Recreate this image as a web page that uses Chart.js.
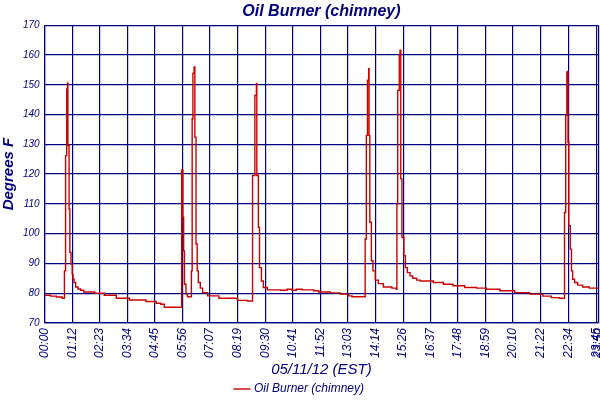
<!DOCTYPE html>
<html>
<head>
<meta charset="utf-8">
<script src="https://cdn.jsdelivr.net/npm/chart.js@4.4.0/dist/chart.umd.min.js"></script>
<style>
  html, body { margin: 0; padding: 0; background: #fff; }
  #wrap { width: 600px; height: 400px; }
</style>
</head>
<body>
<div id="wrap"><canvas id="graficaChimenea" width="600" height="400"></canvas></div>
<script>
// minutos desde medianoche (cada valor se mantiene hasta el siguiente punto)
const tiempos = [
    0, 15, 30, 45, 51, 54, 57, 59, 60, 63, 65, 68, 71, 73, 76, 80, 86, 93, 101, 129, 154, 185, 219, 262, 288, 300, 309,
    354, 357, 359, 361, 365, 369, 379, 381, 383, 386, 388, 391, 394, 397, 402, 408, 421, 450, 498, 524,
    537, 543, 547, 548, 552, 555, 560, 565, 575, 609, 626, 639, 650, 665, 695, 708, 738, 764, 785, 794,
    828, 831, 834, 837, 838, 840, 844, 848, 854, 862, 875, 897, 908,
    910, 912, 916, 918, 920, 923, 928, 932, 937, 944, 951, 961, 970, 1004, 1030, 1055, 1085, 1116, 1141, 1176, 1214, 1253, 1287, 1309, 1330,
    1343, 1346, 1349, 1351, 1352, 1354, 1358, 1361, 1364, 1369, 1377, 1390, 1407, 1430
];
const temperaturas = [
    79.3, 79.0, 78.7, 78.3, 87.5, 126.2, 148.5, 150.6, 129.6, 108.3, 93.7, 89.8, 86.4, 84.7, 83.6, 82.1, 81.4, 81.0, 80.4, 80.0, 79.3, 78.3, 77.7, 77.2, 76.6, 76.3, 75.3,
    121.4, 105.5, 94.2, 83.0, 79.7, 78.8, 87.5, 138.6, 153.9, 156.0, 132.4, 96.5, 87.5, 83.6, 81.7, 80.2, 79.1, 78.3, 77.6, 77.4,
    119.5, 146.4, 150.4, 119.5, 102.1, 88.6, 84.1, 81.9, 81.1, 81.0, 81.3, 81.0, 81.3, 81.1, 80.8, 80.4, 80.1, 79.7, 79.1, 78.8,
    98.2, 133.0, 151.5, 155.4, 133.0, 103.8, 90.9, 87.5, 84.4, 83.2, 82.1, 81.7, 81.3,
    110.0, 148.1, 159.9, 161.6, 118.4, 98.7, 92.6, 88.6, 86.9, 85.8, 85.0, 84.4, 84.1, 83.6, 83.0, 82.5, 81.9, 81.7, 81.3, 80.8, 80.2, 79.7, 79.0, 78.5, 78.3,
    107.1, 139.7, 154.3, 154.5, 130.7, 102.7, 94.8, 87.5, 84.7, 83.6, 82.7, 82.1, 81.7, 81.7
];
const etiquetasHora = [
    '00:00', '01:12', '02:23', '03:34', '04:45', '05:56', '07:07', '08:19', '09:30', '10:41', '11:52',
    '13:03', '14:14', '15:26', '16:37', '17:48', '18:59', '20:10', '21:22', '22:34', '23:45', '23:50'
];
const ticksY = [70, 80, 90, 100, 110, 120, 130, 140, 150, 160, 170];

const AZUL = '#000080';
const FUENTE = '"Liberation Sans", Arial, sans-serif';

function aMinutos(hhmm) {
    const p = hhmm.split(':');
    return parseInt(p[0], 10) * 60 + parseInt(p[1], 10);
}
const minutosTicks = etiquetasHora.map(aMinutos);

const ctx = document.getElementById('graficaChimenea').getContext('2d');

new Chart(ctx, {
    type: 'line',
    data: {
        datasets: [{
            label: 'Oil Burner (chimney)',
            data: tiempos.map((t, i) => ({ x: t, y: temperaturas[i] })),
            borderColor: '#cc0000',
            backgroundColor: '#cc0000',
            borderWidth: 1.4,
            pointRadius: 0,
            stepped: true,
            fill: false
        }]
    },
    options: {
        responsive: false,
        animation: false,
        layout: { padding: { left: 0, right: 0, top: 2, bottom: -5 } },
        plugins: {
            title: {
                display: true,
                text: 'Oil Burner (chimney)',
                fullSize: false,
                color: AZUL,
                font: { family: FUENTE, size: 16, weight: 'bold', style: 'italic' },
                padding: { top: 0, bottom: 4 }
            },
            legend: {
                position: 'bottom',
                labels: {
                    color: AZUL,
                    usePointStyle: true,
                    pointStyle: 'line',
                    boxWidth: 12,
                    font: { family: FUENTE, size: 12, style: 'italic' },
                    padding: 4
                }
            },
            tooltip: { enabled: false }
        },
        scales: {
            x: {
                type: 'linear',
                min: 0,
                max: 1430,
                afterBuildTicks: function(axis) {
                    axis.ticks = minutosTicks.map(v => ({ value: v }));
                },
                ticks: {
                    color: AZUL,
                    autoSkip: false,
                    minRotation: 90,
                    maxRotation: 90,
                    padding: 0,
                    // interlineado mínimo para que la última etiqueta no encoja el área
                    font: { family: FUENTE, size: 12, style: 'italic', lineHeight: 0.15 },
                    callback: function(value, index) {
                        return etiquetasHora[index];
                    }
                },
                grid: { color: AZUL, lineWidth: 1.2, drawTicks: true, tickLength: 5, tickColor: 'rgba(0,0,0,0)' },
                border: { color: AZUL, width: 1.2 },
                title: {
                    display: true,
                    text: '05/11/12 (EST)',
                    color: AZUL,
                    font: { family: FUENTE, size: 15, style: 'italic' },
                    padding: { top: 3, bottom: 0 }
                }
            },
            y: {
                min: 70,
                max: 170,
                afterBuildTicks: function(axis) {
                    axis.ticks = ticksY.map(v => ({ value: v }));
                },
                ticks: {
                    color: AZUL,
                    padding: 5,
                    font: { family: FUENTE, size: 10, style: 'italic' }
                },
                grid: { color: AZUL, lineWidth: 1.2, drawTicks: false },
                border: { color: AZUL, width: 1.2 },
                title: {
                    display: true,
                    text: 'Degrees F',
                    color: AZUL,
                    font: { family: FUENTE, size: 15, weight: 'bold', style: 'italic' },
                    padding: { top: 0, bottom: 0 }
                }
            }
        }
    }
});
</script>
</body>
</html>
